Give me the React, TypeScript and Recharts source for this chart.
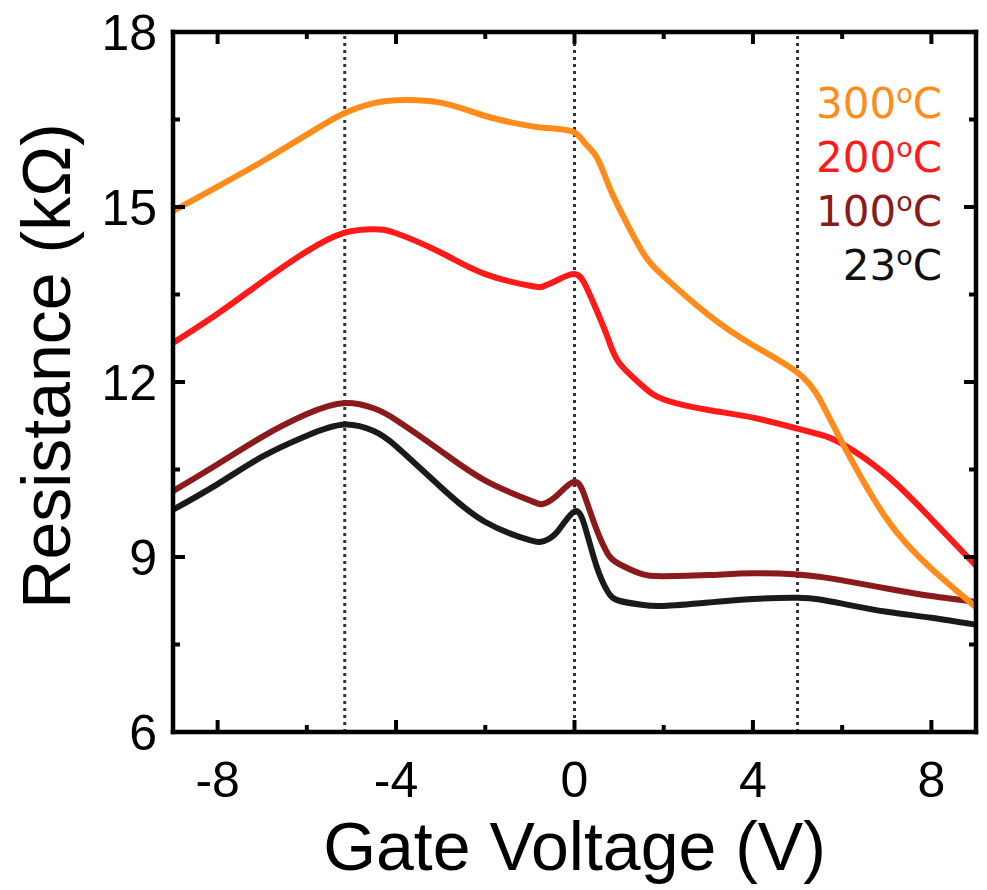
import { Line, LineChart, ReferenceLine, XAxis, YAxis } from "recharts";

const voltage = [
  -9, -8, -7, -6, -5.15, -4.5, -4, -3, -2, -1, -0.7, -0.4, 0, 0.25, 0.5, 0.75,
  1, 1.5, 2, 3, 4, 5, 5.5, 6, 7, 8, 9,
];

const r300 = [
  14.93, 15.35, 15.78, 16.24, 16.61, 16.78, 16.83, 16.79, 16.56, 16.39, 16.36,
  16.34, 16.28, 16.08, 15.85, 15.4, 14.98, 14.26, 13.81, 13.15, 12.63, 12.16,
  11.7, 10.96, 9.65, 8.8, 8.14,
];
const r200 = [
  12.67, 13.17, 13.72, 14.24, 14.56, 14.62, 14.55, 14.22, 13.85, 13.65, 13.64,
  13.74, 13.85, 13.65, 13.22, 12.75, 12.33, 11.95, 11.7, 11.52, 11.39, 11.2,
  11.1, 10.94, 10.4, 9.65, 8.85,
];
const r100 = [
  10.13, 10.59, 11.06, 11.45, 11.64, 11.55, 11.35, 10.82, 10.31, 9.97, 9.91,
  10.05, 10.29, 10.0, 9.46, 9.05, 8.88, 8.71, 8.67, 8.69, 8.72, 8.7, 8.66, 8.6,
  8.46, 8.33, 8.23,
];
const r23 = [
  9.81, 10.25, 10.72, 11.08, 11.27, 11.16, 10.9, 10.2, 9.6, 9.29, 9.27, 9.42,
  9.78, 9.48, 8.83, 8.4, 8.25, 8.18, 8.16, 8.22, 8.28, 8.3, 8.27, 8.2, 8.06,
  7.96, 7.84,
];

const xTicks = [-8, -6, -4, -2, 0, 2, 4, 6, 8];
const xMajor = [-8, -4, 0, 4, 8];
const yTicks = [6, 7.5, 9, 10.5, 12, 13.5, 15, 16.5, 18];
const yMajor = [6, 9, 12, 15, 18];
const markers = [-5.15, 0, 5];

const legend = [
  { label: "300", color: "#ff8c1a" },
  { label: "200", color: "#ff1a1a" },
  { label: "100", color: "#8b1a1a" },
  { label: "23", color: "#111111" },
];

const data = voltage.map((v, i) => ({
  v,
  r300: r300[i],
  r200: r200[i],
  r100: r100[i],
  r23: r23[i],
}));

const FONT = "'Liberation Sans', Arial, sans-serif";
const MAJOR = 12;
const MINOR = 7;
const TW = 4;

function BottomTick(props: any) {
  const { x, y, payload } = props;
  const major = xMajor.includes(payload.value);
  return (
    <g>
      <line x1={x} x2={x} y1={y} y2={y - (major ? MAJOR : MINOR)} stroke="#000" strokeWidth={TW} />
      {major && (
        <text x={x} y={y + 65} textAnchor="middle" fontSize={50} fontFamily={FONT} fill="#000">
          {String(payload.value)}
        </text>
      )}
    </g>
  );
}

function TopTick(props: any) {
  const { x, y, payload } = props;
  const major = xMajor.includes(payload.value);
  return <line x1={x} x2={x} y1={y} y2={y + (major ? MAJOR : MINOR)} stroke="#000" strokeWidth={TW} />;
}

function LeftTick(props: any) {
  const { x, y, payload } = props;
  const major = yMajor.includes(payload.value);
  return (
    <g>
      <line x1={x} x2={x + (major ? MAJOR : MINOR)} y1={y} y2={y} stroke="#000" strokeWidth={TW} />
      {major && (
        <text x={x - 16} y={y + 18} textAnchor="end" fontSize={50} fontFamily={FONT} fill="#000">
          {String(payload.value)}
        </text>
      )}
    </g>
  );
}

function RightTick(props: any) {
  const { x, y, payload } = props;
  const major = yMajor.includes(payload.value);
  return <line x1={x} x2={x - (major ? MAJOR : MINOR)} y1={y} y2={y} stroke="#000" strokeWidth={TW} />;
}

const frame = { stroke: "#000", strokeWidth: 4.5, strokeLinecap: "square" as const };

export default function App() {
  return (
    <div style={{ position: "absolute", left: 0, top: 0, width: 987, height: 890, background: "#fff" }}>
      <LineChart
        width={987}
        height={890}
        data={data}
        margin={{ top: 31, right: 10, bottom: 58, left: 0 }}
      >
        <XAxis
          dataKey="v"
          type="number"
          domain={[-9, 9]}
          allowDataOverflow
          ticks={xTicks}
          interval={0}
          height={100}
          tickSize={0}
          tickMargin={0}
          tickLine={false}
          axisLine={frame}
          tick={BottomTick}
        />
        <XAxis
          xAxisId="top"
          orientation="top"
          dataKey="v"
          type="number"
          domain={[-9, 9]}
          allowDataOverflow
          ticks={xTicks}
          interval={0}
          height={1}
          tickSize={0}
          tickMargin={0}
          tickLine={false}
          axisLine={frame}
          tick={TopTick}
        />
        <YAxis
          type="number"
          domain={[6, 18]}
          allowDataOverflow
          ticks={yTicks}
          interval={0}
          width={173}
          tickSize={0}
          tickMargin={0}
          tickLine={false}
          axisLine={frame}
          tick={LeftTick}
        />
        <YAxis
          yAxisId="right"
          orientation="right"
          type="number"
          domain={[6, 18]}
          allowDataOverflow
          ticks={yTicks}
          interval={0}
          width={1}
          tickSize={0}
          tickMargin={0}
          tickLine={false}
          axisLine={frame}
          tick={RightTick}
        />
        {markers.map((m) => (
          <ReferenceLine key={m} x={m} stroke="#333" strokeWidth={3} strokeDasharray="3 4" />
        ))}
        <Line type="natural" dataKey="r23" stroke="#1a1a1a" strokeWidth={6} dot={false} isAnimationActive={false} />
        <Line type="natural" dataKey="r100" stroke="#8b1a1a" strokeWidth={6} dot={false} isAnimationActive={false} />
        <Line type="natural" dataKey="r200" stroke="#ff1a1a" strokeWidth={6} dot={false} isAnimationActive={false} />
        <Line type="natural" dataKey="r300" stroke="#ff8c1a" strokeWidth={6} dot={false} isAnimationActive={false} />
      </LineChart>
      <svg
        width={987}
        height={890}
        style={{ position: "absolute", left: 0, top: 0, pointerEvents: "none" }}
      >
        <text x={574.5} y={870} textAnchor="middle" fontSize={68} fontFamily={FONT} fill="#000">
          Gate Voltage (V)
        </text>
        <text
          x={0}
          y={0}
          transform="translate(70 366) rotate(-90)"
          textAnchor="middle"
          fontSize={68}
          fontFamily={FONT}
          fill="#000"
        >
          Resistance (kΩ)
        </text>
        {legend.map((item, i) => (
          <text
            key={item.label}
            x={942}
            y={118 + i * 54}
            textAnchor="end"
            fontSize={42}
            fontFamily="'DejaVu Sans', sans-serif"
            fill={item.color}
          >
            {item.label}
            <tspan dy={-15} fontSize={27}>o</tspan>
            <tspan dy={15}>C</tspan>
          </text>
        ))}
      </svg>
    </div>
  );
}
